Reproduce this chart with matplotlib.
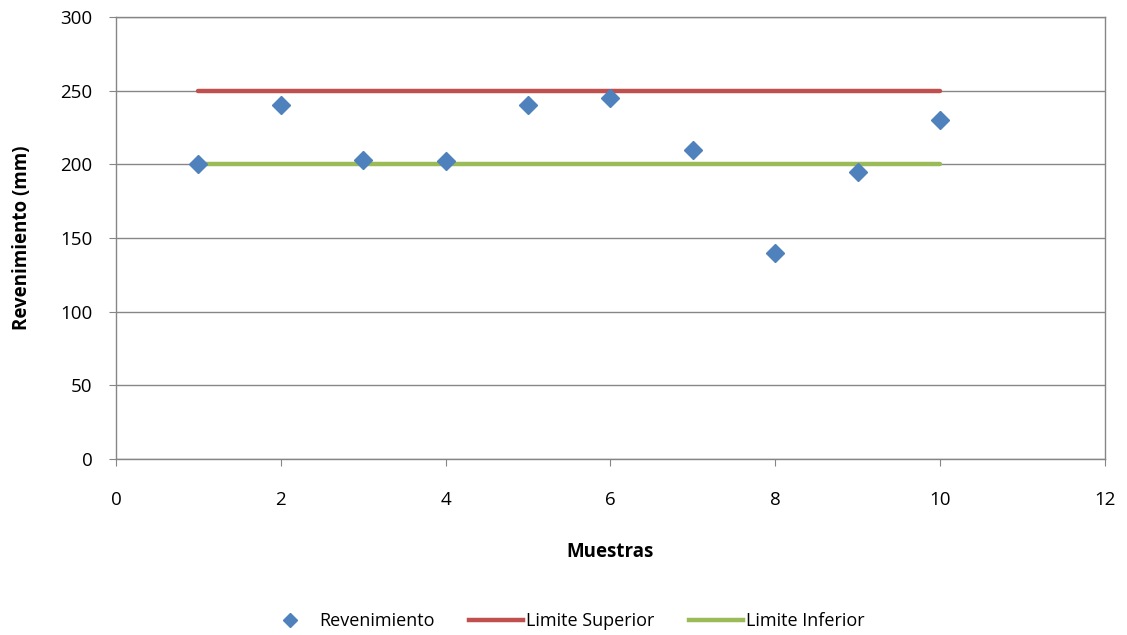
import matplotlib
matplotlib.use("Agg")
import matplotlib.pyplot as plt
from matplotlib.lines import Line2D

muestras = [1, 2, 3, 4, 5, 6, 7, 8, 9, 10]
revenimiento = [200, 240, 203, 202, 240, 245, 210, 140, 195, 230]
limite_superior = [250] * 10
limite_inferior = [200] * 10

plt.rcParams['font.family'] = ['Open Sans', 'DejaVu Sans']

fig = plt.figure(figsize=(11.27, 6.35), dpi=100)
ax = fig.add_axes([0.1029, 0.2772, 0.8776, 0.696])

ax.plot(muestras, limite_superior, color='#C0504D', lw=3.2, solid_capstyle='round', zorder=3, label='Limite Superior')
ax.plot(muestras, limite_inferior, color='#9BBB59', lw=3.2, solid_capstyle='round', zorder=3, label='Limite Inferior')
ax.plot(muestras, revenimiento, linestyle='none', marker='D', ms=9.3, color='#4F81BD',
        mec='#4F81BD', zorder=4, label='Revenimiento')

ax.set_xlim(0, 12)
ax.set_ylim(0, 300)
ax.set_xticks(range(0, 13, 2))
ax.set_yticks(range(0, 301, 50))
ax.yaxis.grid(True, color='#868686', lw=1)
ax.set_axisbelow(True)
for s in ax.spines.values():
    s.set_color('#868686')
    s.set_linewidth(1)
ax.tick_params(axis='both', labelsize=13.5, color='#868686', length=5, direction='out')
ax.tick_params(axis='x', pad=18)
ax.tick_params(axis='y', pad=12)

ax.set_xlabel('Muestras', fontsize=13.5, fontweight='bold', labelpad=24)
ax.set_ylabel('Revenimiento (mm)', fontsize=13.5, fontweight='bold', labelpad=20)

handles = [
    Line2D([], [], linestyle='none', marker='D', ms=7, color='#4F81BD'),
    Line2D([], [], color='#C0504D', lw=3.2),
    Line2D([], [], color='#9BBB59', lw=3.2),
]
fig.legend(handles, ['Revenimiento', 'Limite Superior', 'Limite Inferior'],
           loc='center', bbox_to_anchor=(0.5, 0.022), ncol=3, frameon=False,
           fontsize=13, handlelength=3.0, columnspacing=1.9, handletextpad=0.15)

fig.savefig('out.png', dpi=100)
